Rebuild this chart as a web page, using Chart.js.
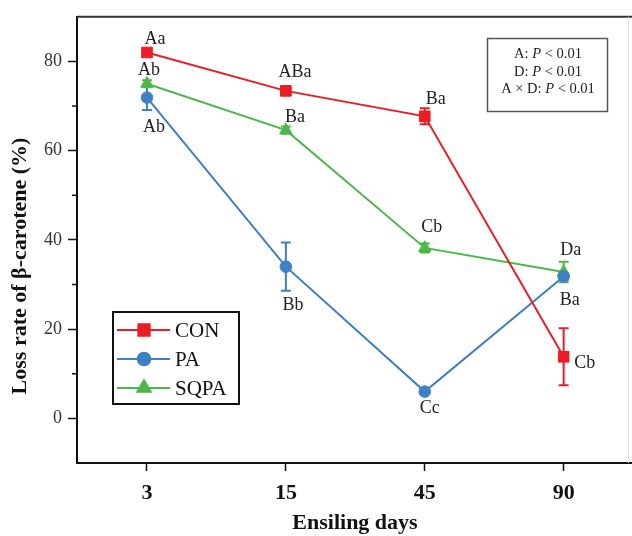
<!DOCTYPE html>
<html>
<head>
<meta charset="utf-8">
<script src="https://cdn.jsdelivr.net/npm/chart.js@4/dist/chart.umd.min.js"></script>
<style>
html,body{margin:0;padding:0;background:#fff;}
canvas{display:block;}
</style>
</head>
<body>
<canvas id="c" width="632" height="536"></canvas>
<script>
// ---- data ----
const xLabels = ['3', '15', '45', '90'];
const yTicks = [0, 20, 40, 60, 80];
const seriesNames = ['CON', 'PA', 'SQPA'];
const conValues = [82.0, 73.4, 67.7, 13.8];
const paValues = [71.9, 34.0, 6.0, 31.8];
const sqpaValues = [75.0, 64.6, 38.2, 32.8];
const conErr = [0.8, 0.8, 1.8, 6.4];
const paErr = [2.8, 5.4, 0.6, 0.8];
const sqpaErr = [0.8, 0.8, 1.0, 2.3];
const conLetters = ['Aa', 'ABa', 'Ba', 'Cb'];
const paLetters = ['Ab', 'Bb', 'Cc', 'Ba'];
const sqpaLetters = ['Ab', 'Ba', 'Cb', 'Da'];
const statLines = [['A: ', 'P', ' < 0.01'], ['D: ', 'P', ' < 0.01'], ['A \u00d7 D: ', 'P', ' < 0.01']];

// ---- placement of the significance letters (pixel offsets from the point) ----
const letterOffsets = [
  [[8, -13], [9, -19], [11, -17], [21, 6]],
  [[7, 30], [7, 39], [5, 17], [6, 24]],
  [[2, -13], [9, -13], [7, -21], [7, -22]]
];

const RED = '#EC1C24', BLUE = '#3F7FC3', GREEN = '#4DB847';
const colors = [RED, BLUE, GREEN];
const styles = ['rect', 'circle', 'triangle'];
const radii = [7.5, 5.8, 7.2];
const values = [conValues, paValues, sqpaValues];
const errs = [conErr, paErr, sqpaErr];
const letters = [conLetters, paLetters, sqpaLetters];

const datasets = seriesNames.map((n, k) => ({
  label: n,
  data: values[k].map((v, i) => ({x: i, y: v})),
  borderColor: colors[k],
  backgroundColor: colors[k],
  pointBackgroundColor: colors[k],
  pointBorderColor: colors[k],
  pointStyle: styles[k],
  pointRadius: radii[k],
  pointBorderWidth: 1,
  borderWidth: 2,
  tension: 0,
  order: k
}));

const SERIF = '"Liberation Serif", "Times New Roman", serif';

const extras = {
  id: 'extras',
  beforeDatasetsDraw(chart) {
    const ctx = chart.ctx;
    const xs = chart.scales.x, ys = chart.scales.y;
    // error bars
    values.forEach((vals, k) => {
      ctx.save();
      ctx.strokeStyle = colors[k];
      ctx.lineWidth = 2;
      vals.forEach((v, i) => {
        const e = errs[k][i];
        const px = xs.getPixelForValue(i);
        const y1 = ys.getPixelForValue(v + e), y2 = ys.getPixelForValue(v - e);
        ctx.beginPath();
        ctx.moveTo(px, y1); ctx.lineTo(px, y2);
        ctx.moveTo(px - 5, y1); ctx.lineTo(px + 5, y1);
        ctx.moveTo(px - 5, y2); ctx.lineTo(px + 5, y2);
        ctx.stroke();
      });
      ctx.restore();
    });
  },
  afterDraw(chart) {
    const ctx = chart.ctx;
    const ca = chart.chartArea;
    const xs = chart.scales.x, ys = chart.scales.y;
    ctx.save();
    // top frame
    ctx.strokeStyle = '#333';
    ctx.lineWidth = 2;
    ctx.beginPath();
    ctx.moveTo(ca.left, ca.top); ctx.lineTo(632, ca.top);
    ctx.stroke();
    // bottom axis extension to the edge
    ctx.strokeStyle = '#111';
    ctx.beginPath();
    ctx.moveTo(ca.right - 1, ca.bottom); ctx.lineTo(632, ca.bottom);
    ctx.stroke();
    ctx.strokeStyle = '#e4e4e4';
    ctx.lineWidth = 1;
    ctx.beginPath();
    ctx.moveTo(628.5, ca.top); ctx.lineTo(628.5, ca.bottom);
    ctx.stroke();
    // minor y ticks
    ctx.strokeStyle = '#111';
    ctx.lineWidth = 1.5;
    [10, 30, 50, 70].forEach(v => {
      const py = ys.getPixelForValue(v);
      ctx.beginPath();
      ctx.moveTo(ca.left - 5, py); ctx.lineTo(ca.left, py);
      ctx.stroke();
    });
    // significance letters
    ctx.fillStyle = '#222';
    ctx.font = '18px ' + SERIF;
    ctx.textAlign = 'center';
    ctx.textBaseline = 'middle';
    letters.forEach((arr, k) => {
      arr.forEach((t, i) => {
        const px = xs.getPixelForValue(i) + letterOffsets[k][i][0];
        const py = ys.getPixelForValue(values[k][i]) + letterOffsets[k][i][1];
        ctx.fillText(t, px, py);
      });
    });
    // axis titles
    ctx.fillStyle = '#111';
    ctx.font = 'bold 22px ' + SERIF;
    ctx.save();
    ctx.translate(20, 266);
    ctx.rotate(-Math.PI / 2);
    ctx.fillText('Loss rate of \u03b2-carotene (%)', 0, 0);
    ctx.restore();
    ctx.font = 'bold 22px ' + SERIF;
    ctx.fillText('Ensiling days', 355, 523);
    // stats box
    ctx.strokeStyle = '#555';
    ctx.lineWidth = 1.5;
    ctx.strokeRect(487.5, 38.5, 120, 73);
    ctx.fillStyle = '#222';
    ctx.textAlign = 'left';
    const sf = '14.5px ' + SERIF, si = 'italic 14.5px ' + SERIF;
    statLines.forEach((parts, j) => {
      ctx.font = sf; const w1 = ctx.measureText(parts[0]).width; const w3 = ctx.measureText(parts[2]).width;
      ctx.font = si; const w2 = ctx.measureText(parts[1]).width;
      let x = 548 - (w1 + w2 + w3) / 2;
      const y = 54.5 + j * 17.5;
      ctx.font = sf; ctx.fillText(parts[0], x, y); x += w1;
      ctx.font = si; ctx.fillText(parts[1], x, y); x += w2;
      ctx.font = sf; ctx.fillText(parts[2], x, y);
    });
    // legend
    ctx.strokeStyle = '#111';
    ctx.lineWidth = 2;
    ctx.strokeRect(113, 312, 126, 92);
    const rows = [330, 359, 388];
    seriesNames.forEach((n, k) => {
      const y = rows[k];
      ctx.strokeStyle = colors[k];
      ctx.lineWidth = 2;
      ctx.beginPath(); ctx.moveTo(117, y); ctx.lineTo(170, y); ctx.stroke();
      ctx.fillStyle = colors[k];
      Chart.helpers.drawPoint(ctx, {pointStyle: styles[k], radius: radii[k] + 0.5, borderWidth: 1}, 144, y);
      ctx.fill();
      ctx.fillStyle = '#111';
      ctx.font = '21px ' + SERIF;
      ctx.textBaseline = 'middle';
      ctx.fillText(n, 175, y + 1);
    });
    ctx.restore();
  }
};

new Chart(document.getElementById('c'), {
  type: 'line',
  data: {datasets},
  options: {
    responsive: false,
    animation: false,
    events: [],
    layout: {padding: {left: 0, right: 2, top: 16, bottom: 0}},
    plugins: {legend: {display: false}, tooltip: {enabled: false}},
    scales: {
      x: {
        type: 'linear', min: -0.504, max: 3.431,
        afterFit(s) { s.height = 73; },
        afterBuildTicks(s) { s.ticks = xLabels.map((_, i) => ({value: i})); },
        ticks: {
          callback: (v) => xLabels[v],
          font: {family: SERIF, weight: 'bold', size: 22},
          color: '#111', padding: 9, maxRotation: 0, autoSkip: false
        },
        grid: {display: true, drawOnChartArea: false, drawTicks: true, tickLength: 8, tickWidth: 1.5, tickColor: '#111'},
        border: {display: true, color: '#111', width: 2}
      },
      y: {
        min: -10, max: 90,
        afterFit(s) { s.width = 77; },
        afterBuildTicks(s) { s.ticks = yTicks.map(v => ({value: v})); },
        ticks: {font: {family: SERIF, size: 18}, color: '#333', padding: 6},
        grid: {display: true, drawOnChartArea: false, drawTicks: true, tickLength: 9, tickWidth: 1.5, tickColor: '#111'},
        border: {display: true, color: '#111', width: 2}
      }
    }
  },
  plugins: [extras]
});
</script>
</body>
</html>
